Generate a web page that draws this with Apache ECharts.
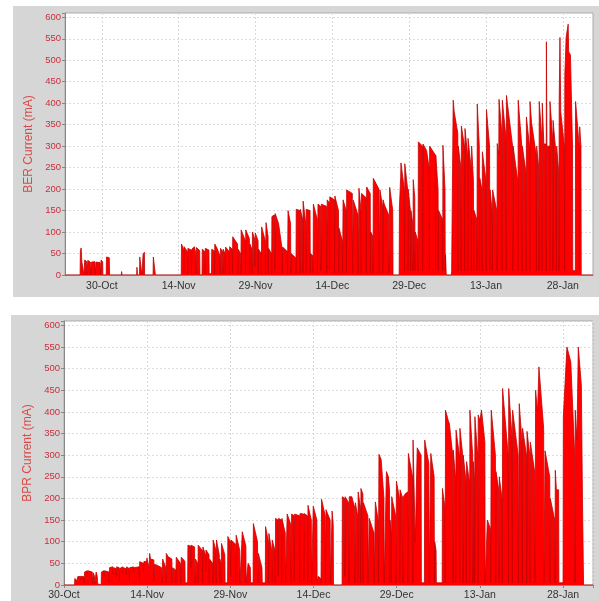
<!DOCTYPE html>
<html>
<head>
<meta charset="utf-8">
<script src="https://cdn.jsdelivr.net/npm/echarts@6/dist/echarts.min.js"></script>
<style>
html,body{margin:0;padding:0;background:#fff;width:599px;height:601px;overflow:hidden;}
.panel{position:absolute;background:#d6d6d6;}
#chart{position:absolute;left:0;top:0;width:599px;height:601px;}
</style>
</head>
<body>
<div class="panel" style="left:13px;top:6px;width:586px;height:291px;"></div>
<div class="panel" style="left:11px;top:315px;width:588px;height:286px;"></div>
<div id="chart"></div>
<script>
// Date tick labels (day offsets from 30-Oct: 0,15,30,...)
const dateLabels = ['30-Oct','14-Nov','29-Nov','14-Dec','29-Dec','13-Jan','28-Jan'];
const yTicks = [0,50,100,150,200,250,300,350,400,450,500,550,600];

// BER current: [day offset from 30-Oct, mA]
const berCurrent = [
[-7.2,0],
[-4.25,0],[-4.2,55],[-4.05,63],[-3.95,40],[-3.9,30],[-3.55,30],[-3.5,0],
[-3.4,0],[-3.35,35],[-2.95,31],[-2.9,0],
[-2.8,0],[-2.75,34],[-2.25,30],[-2.2,0],
[-2.1,0],[-2.05,30],[-1.35,31],[-1.3,0],
[-1.2,0],[-1.15,30],[-0.35,29],[-0.3,0],
[-0.2,0],[-0.15,35],[0.15,30],[0.2,0],
[0.85,0],[0.9,42],[1.45,40],[1.5,0],
[3.8,0],[3.85,8],[3.95,0],
[6.8,0],[6.85,18],[6.95,0],
[7.35,0],[7.4,42],[7.75,38],[7.8,0],
[8.0,0],[8.05,48],[8.3,53],[8.35,0],
[10.0,0],[10.05,42],[10.4,38],[10.45,0],
[15.5,0],[15.55,72],[15.95,60],[16.0,4],
[16.05,66],[16.7,55],[16.75,4],
[16.8,62],[17.45,58],[17.5,4],
[17.55,60],[18.05,66],[18.35,50],[18.4,4],
[18.45,64],[19.1,57],[19.15,0],
[19.55,0],[19.6,60],[20.1,55],[20.15,3],
[20.2,62],[20.9,58],[20.95,3],
[21.4,3],[21.45,60],[21.95,56],[22.0,3],
[22.05,72],[22.5,62],[23.05,45],[23.1,3],
[23.15,62],[23.6,55],[23.65,3],
[23.7,60],[24.05,50],[24.1,3],
[24.15,65],[24.85,55],[24.9,3],
[24.95,66],[25.45,60],[25.5,3],
[25.55,89],[26.5,72],[26.55,3],
[26.6,60],[27.1,50],[27.15,3],
[27.2,105],[28.0,80],[28.05,3],
[28.1,105],[28.8,85],[28.85,3],
[28.9,72],[29.3,60],[29.35,3],
[29.4,100],[29.8,85],[29.85,20],[29.95,98],[30.5,80],[30.55,3],
[30.6,60],[31.1,50],[31.15,3],
[31.2,112],[31.9,80],[31.95,3],
[32.0,3],[32.05,122],[32.45,90],[32.5,3],
[32.55,62],[33.1,50],[33.15,3],
[33.2,136],[33.7,140],[33.75,10],[33.85,143],[34.5,120],[35.2,60],[35.25,3],
[35.3,65],[36.2,55],[36.25,3],
[36.3,3],[36.35,150],[36.85,120],[36.9,3],
[36.95,50],[37.85,40],[37.9,3],
[37.95,153],[38.65,150],[38.7,5],
[38.75,153],[39.2,130],[39.25,5],
[39.3,172],[39.8,120],[39.85,5],
[39.9,153],[40.65,150],[40.7,5],
[40.75,50],[41.2,45],[41.25,5],
[41.3,165],[42.05,130],[42.1,5],
[42.15,5],[42.2,165],[42.7,160],[42.75,10],[42.85,165],[43.85,160],[43.9,5],
[43.95,5],[44.0,175],[44.4,168],[44.45,10],[44.5,182],[45.4,175],[45.45,5],
[45.5,184],[46.2,150],[46.25,5],
[46.3,109],[46.95,80],[47.0,5],
[47.05,5],[47.1,175],[47.7,150],[47.75,5],
[47.8,198],[48.9,190],[48.95,5],
[49.05,5],[49.1,174],[50.0,140],[50.05,5],
[50.15,5],[50.2,202],[50.6,150],[50.65,5],
[50.7,190],[51.6,180],[51.65,5],
[51.7,205],[52.4,190],[52.45,5],
[52.5,100],[52.9,90],[52.95,5],
[53.0,225],[54.1,200],[54.15,5],
[54.25,5],[54.3,198],[54.8,160],[54.85,5],
[54.9,175],[55.2,163],[56.0,140],[56.05,5],
[56.15,5],[56.2,204],[56.8,150],[56.85,0],
[58.05,0],[58.1,158],[58.35,230],[58.4,261],[59.05,200],[59.1,10],
[59.15,259],[59.7,200],[59.75,10],
[59.8,200],[60.25,150],[60.3,10],
[60.35,150],[60.7,120],[60.75,10],
[60.8,222],[61.1,180],[61.15,10],
[61.2,100],[61.7,80],[61.75,10],
[61.8,310],[62.6,300],[62.65,10],
[62.7,305],[63.4,290],[63.9,250],[63.95,10],
[64.0,300],[65.1,280],[65.15,10],
[65.2,279],[65.65,200],[65.7,10],
[65.75,150],[66.5,130],[66.55,10],
[66.6,302],[67.0,200],[67.05,10],
[67.1,47],[67.25,0],
[68.25,0],[68.3,10],[68.55,10],[68.6,407],[68.8,380],[69.5,330],[69.55,10],
[69.6,300],[70.1,250],[70.15,10],
[70.2,347],[70.8,300],[70.85,10],
[70.9,341],[71.4,280],[71.45,10],
[71.5,318],[72.1,250],[72.15,10],
[72.2,300],[72.55,220],[72.6,10],
[72.65,150],[73.2,130],[73.25,10],
[73.3,398],[73.7,300],[73.75,10],
[73.8,225],[74.2,200],[74.25,10],
[74.3,287],[75.0,220],[75.05,10],
[75.1,385],[75.7,300],[75.75,10],
[75.8,198],[76.2,150],[76.25,10],
[76.3,198],[77.1,150],[77.15,10],
[77.2,306],[77.5,280],[77.55,409],[78.1,330],[78.15,10],
[78.2,407],[78.9,320],[78.95,10],
[79.0,418],[79.25,414],[80.2,300],[80.25,10],
[80.3,300],[81.2,220],[81.25,10],
[81.3,407],[82.0,300],[82.05,10],
[82.1,300],[82.8,240],[82.85,10],
[82.9,368],[83.5,300],[83.55,10],
[83.6,404],[83.9,355],[84.1,355],[84.8,280],[84.85,10],
[84.9,300],[85.3,250],[85.35,10],
[85.4,404],[85.9,320],[85.95,10],
[86.0,400],[86.3,305],[86.7,305],[86.75,10],
[86.8,543],[86.9,300],[87.4,300],[87.45,10],
[87.5,404],[88.0,320],[88.05,10],
[88.1,360],[88.7,280],[88.75,10],
[88.8,300],[89.2,240],[89.25,10],
[89.3,404],[89.45,553],[89.6,380],[90.3,300],[90.35,10],
[90.4,465],[90.6,465],[90.65,553],[91.05,584],[91.15,520],[91.5,512],[91.9,300],[91.95,10],
[92.45,10],[92.5,404],[93.2,300],[93.25,10],
[93.3,345],[93.55,300],[93.6,0],
[95.9,0]
];

// BPR current: [day offset from 30-Oct, mA]
const bprCurrent = [
[0,0],
[1.9,0],[1.95,15],[2.3,19],[2.35,10],[2.45,19],[3.0,20],[3.05,12],[3.1,20],[3.6,19],[3.65,5],
[3.7,30],[4.2,33],[4.25,25],[4.3,33],[5.1,30],[5.15,3],
[5.25,3],[5.3,28],[5.5,20],[5.55,3],[5.75,3],[5.8,30],[6.0,20],[6.05,3],[6.3,0],
[6.7,0],[6.75,30],[7.2,33],[7.25,20],[7.3,33],[8.1,30],[8.15,5],
[8.2,40],[8.8,42],[8.85,25],[8.9,40],[9.4,38],[9.45,20],[9.5,42],[9.95,40],[10.0,10],
[10.05,38],[10.6,42],[10.65,28],[10.7,40],[11.2,38],[11.25,25],[11.3,42],[11.75,38],[11.8,10],
[11.85,40],[12.5,42],[12.55,30],[12.6,40],[13.55,42],[13.6,10],
[13.65,54],[14.3,50],[14.35,30],[14.4,54],[14.9,55],[14.95,62],[15.3,62],[15.35,40],[15.45,73],[15.6,60],[16.2,58],[16.25,10],
[16.3,48],[16.9,45],[17.6,40],[17.65,5],
[17.75,5],[17.8,60],[18.35,40],[18.4,5],
[18.45,73],[18.8,65],[19.45,60],[19.5,5],
[19.55,5],[19.6,40],[20.1,35],[20.15,5],
[20.2,5],[20.25,64],[21.0,50],[21.05,5],
[21.1,5],[21.15,64],[21.8,55],[21.85,5],
[22.3,5],[22.35,92],[22.8,90],[22.85,40],[22.9,92],[23.55,88],[23.6,5],
[23.65,5],[23.7,60],[24.1,50],[24.15,5],
[24.2,92],[24.95,80],[25.0,5],
[25.05,88],[25.5,70],[25.55,30],[25.6,81],[26.15,70],[26.2,5],
[26.25,60],[26.8,50],[26.85,5],
[26.9,104],[27.4,80],[27.45,5],
[27.5,104],[28.0,70],[28.05,5],
[28.1,60],[28.3,50],[28.35,5],
[28.4,96],[29.0,70],[29.05,5],
[29.5,5],[29.55,112],[30.0,100],[30.05,20],[30.1,104],[30.9,95],[30.95,5],
[31.0,5],[31.05,115],[31.7,80],[31.75,5],
[32.1,5],[32.15,123],[32.8,90],[32.85,5],
[33.15,5],[33.2,50],[33.6,40],[33.65,5],
[34.1,5],[34.15,142],[34.9,100],[34.95,5],
[35.0,5],[35.05,73],[35.7,40],[35.75,5],
[36.3,5],[36.35,135],[36.85,100],[36.9,5],
[36.95,119],[37.45,80],[37.5,5],
[37.55,104],[38.05,80],[38.1,5],
[38.15,154],[38.6,150],[38.65,20],[38.7,154],[39.2,150],[39.25,5],
[39.3,154],[39.9,120],[39.95,5],
[40.2,5],[40.25,164],[40.9,140],[40.95,5],
[41.0,5],[41.05,164],[41.5,160],[41.55,10],[41.6,164],[42.45,160],[42.5,5],
[42.55,165],[43.2,164],[43.25,10],[43.3,165],[43.9,160],[43.95,5],
[44.0,184],[44.6,150],[44.65,5],
[44.9,5],[44.95,182],[45.6,150],[45.65,5],
[45.8,5],[45.85,20],[46.3,15],[46.35,5],
[46.4,5],[46.45,198],[47.1,160],[47.15,5],
[47.2,5],[47.25,174],[48.0,150],[48.05,5],
[48.3,5],[48.35,171],[48.55,140],[48.6,0],
[50.15,0],[50.2,204],[50.6,200],[50.65,20],[50.7,204],[51.35,190],[51.4,5],
[51.45,204],[51.9,204],[52.4,180],[52.45,5],
[52.5,5],[52.55,190],[52.95,160],[53.0,5],
[53.05,215],[53.45,180],[53.5,5],
[53.55,223],[53.9,210],[53.95,5],
[54.0,190],[54.8,160],[54.85,5],
[55.0,5],[55.05,154],[55.9,120],[55.95,5],
[56.1,5],[56.15,192],[56.65,150],[56.7,5],
[56.75,5],[56.8,302],[57.2,290],[57.7,200],[57.75,5],
[58.1,5],[58.15,262],[58.5,250],[58.7,220],[58.75,5],
[58.8,150],[59.0,120],[59.05,5],
[59.1,204],[59.8,160],[59.85,5],
[59.9,5],[59.95,240],[60.5,200],[60.55,5],
[60.6,220],[61.1,200],[61.15,5],
[61.2,204],[61.5,210],[61.95,215],[62.0,5],
[62.05,5],[62.1,304],[62.85,250],[62.9,5],
[62.95,335],[63.3,335],[63.35,100],[63.7,317],[64.4,300],[64.45,5],
[65.0,5],[65.05,335],[65.8,280],[65.85,5],
[66.1,5],[66.15,304],[66.75,250],[66.8,5],
[66.85,100],[67.1,80],[67.15,5],
[68.2,5],[68.25,223],[68.7,180],[68.75,5],
[68.8,404],[69.3,380],[69.5,373],[70.1,300],[70.15,5],
[70.2,312],[70.6,250],[70.65,5],
[70.7,358],[71.3,300],[71.35,5],
[71.4,362],[71.9,300],[71.95,5],
[72.0,300],[72.5,240],[72.55,5],
[72.6,285],[73.1,240],[73.15,5],
[73.2,404],[73.7,300],[73.75,5],
[73.8,285],[74.0,250],[74.05,5],
[74.1,389],[74.6,300],[74.65,5],
[74.7,393],[75.0,380],[75.3,404],[75.9,330],[75.95,5],
[76.3,5],[76.35,150],[76.9,130],[76.95,5],
[77.0,5],[77.05,404],[77.8,300],[77.85,5],
[77.9,262],[78.4,220],[78.45,5],
[78.5,250],[79.0,200],[79.05,5],
[79.1,454],[80.1,300],[80.15,5],
[80.2,454],[80.8,340],[80.85,5],
[80.9,404],[81.9,300],[81.95,5],
[82.05,5],[82.1,419],[82.6,330],[82.65,5],
[82.7,362],[83.4,300],[83.45,5],
[83.5,355],[84.0,300],[84.05,5],
[84.1,330],[84.9,260],[84.95,5],
[85.0,5],[85.05,450],[85.4,400],[85.65,504],[86.5,362],[86.55,5],
[86.7,5],[86.75,310],[87.6,250],[87.65,5],
[87.7,200],[88.5,150],[88.55,5],
[88.6,265],[88.8,220],[89.2,220],[89.25,5],
[90.0,5],[90.05,389],[90.4,389],[90.7,550],[90.95,550],[91.4,515],[92.1,300],[92.15,5],
[92.2,404],[92.5,335],[92.75,550],[93.3,462],[93.5,200],[93.65,50],[93.7,0],
[95.4,0]
];

const labelRed = '#cc2e3c';
const fontFam = 'Liberation Sans, Arial, sans-serif';
function dateFmt(v){
  const k = Math.round(v/15);
  return (Math.abs(v-15*k) < 0.01 && k >= 0 && k < dateLabels.length) ? dateLabels[k] : '';
}
function yFmt(v){ return yTicks.indexOf(Math.round(v)) >= 0 && Math.abs(v-Math.round(v))<1e-6 ? String(Math.round(v)) : ''; }

// top axis: ticks every 0.6 day from -7.2 so that 0,15,30.. fall on ticks; gridline only every 25th
const topGridColors = [];
for (let i = 0; i < 25; i++) topGridColors.push(i === 12 ? '#d8d8d8' : 'rgba(0,0,0,0)');

const chart = echarts.init(document.getElementById('chart'), null, {renderer:'canvas'});
function yAxisCfg(gridIndex, name){
  return {
    type:'value', gridIndex, min:0, max:610, interval:50,
    name, nameLocation:'middle', nameGap:30, nameRotate:90,
    nameTextStyle:{color:'#d84a4a', fontSize:12, fontFamily:fontFam},
    axisLine:{show:true, onZero:false, lineStyle:{color:'#888', width:1}},
    axisTick:{show:true, length:3, lineStyle:{color:'#888'}},
    axisLabel:{color:labelRed, fontSize:9.5, fontFamily:fontFam, margin:4, formatter:yFmt},
    splitLine:{show:true, lineStyle:{color:'#dcdcdc', type:[2,2], width:1}}
  };
}
chart.setOption({
  animation:false,
  backgroundColor:'transparent',
  grid:[
    {left:65, right:6, top:13, height:262, show:true, backgroundColor:'#fff', borderColor:'#aaa', borderWidth:1},
    {left:64, right:6, top:321, height:264, show:true, backgroundColor:'#fff', borderColor:'#aaa', borderWidth:1}
  ],
  xAxis:[
    {type:'value', gridIndex:0, min:-7.2, max:95.9, interval:0.6,
     axisLine:{show:true, onZero:false, lineStyle:{color:'#888'}}, axisTick:{show:false},
     axisLabel:{color:'#333', fontSize:10.5, fontFamily:fontFam, margin:6, formatter:dateFmt, showMinLabel:true, showMaxLabel:true},
     splitLine:{show:true, lineStyle:{color:topGridColors, type:[2,2], width:1}}},
    {type:'value', gridIndex:1, min:0, max:95.4, interval:15,
     axisLine:{show:true, onZero:false, lineStyle:{color:'#888'}}, axisTick:{show:true, length:3, lineStyle:{color:'#888'}},
     axisLabel:{color:'#333', fontSize:10.5, fontFamily:fontFam, margin:5, formatter:dateFmt},
     splitLine:{show:true, lineStyle:{color:'#d8d8d8', type:[2,2], width:1}}}
  ],
  yAxis:[ yAxisCfg(0,'BER Current (mA)'), yAxisCfg(1,'BPR Current (mA)') ],
  series:[
    {type:'line', xAxisIndex:0, yAxisIndex:0, data:berCurrent, showSymbol:false, symbol:'none',
     lineStyle:{color:'#c40000', width:0.8}, areaStyle:{color:'#ff0000', opacity:1}, clip:true},
    {type:'line', xAxisIndex:1, yAxisIndex:1, data:bprCurrent, showSymbol:false, symbol:'none',
     lineStyle:{color:'#c40000', width:0.8}, areaStyle:{color:'#ff0000', opacity:1}, clip:true}
  ]
});
</script>
</body>
</html>
